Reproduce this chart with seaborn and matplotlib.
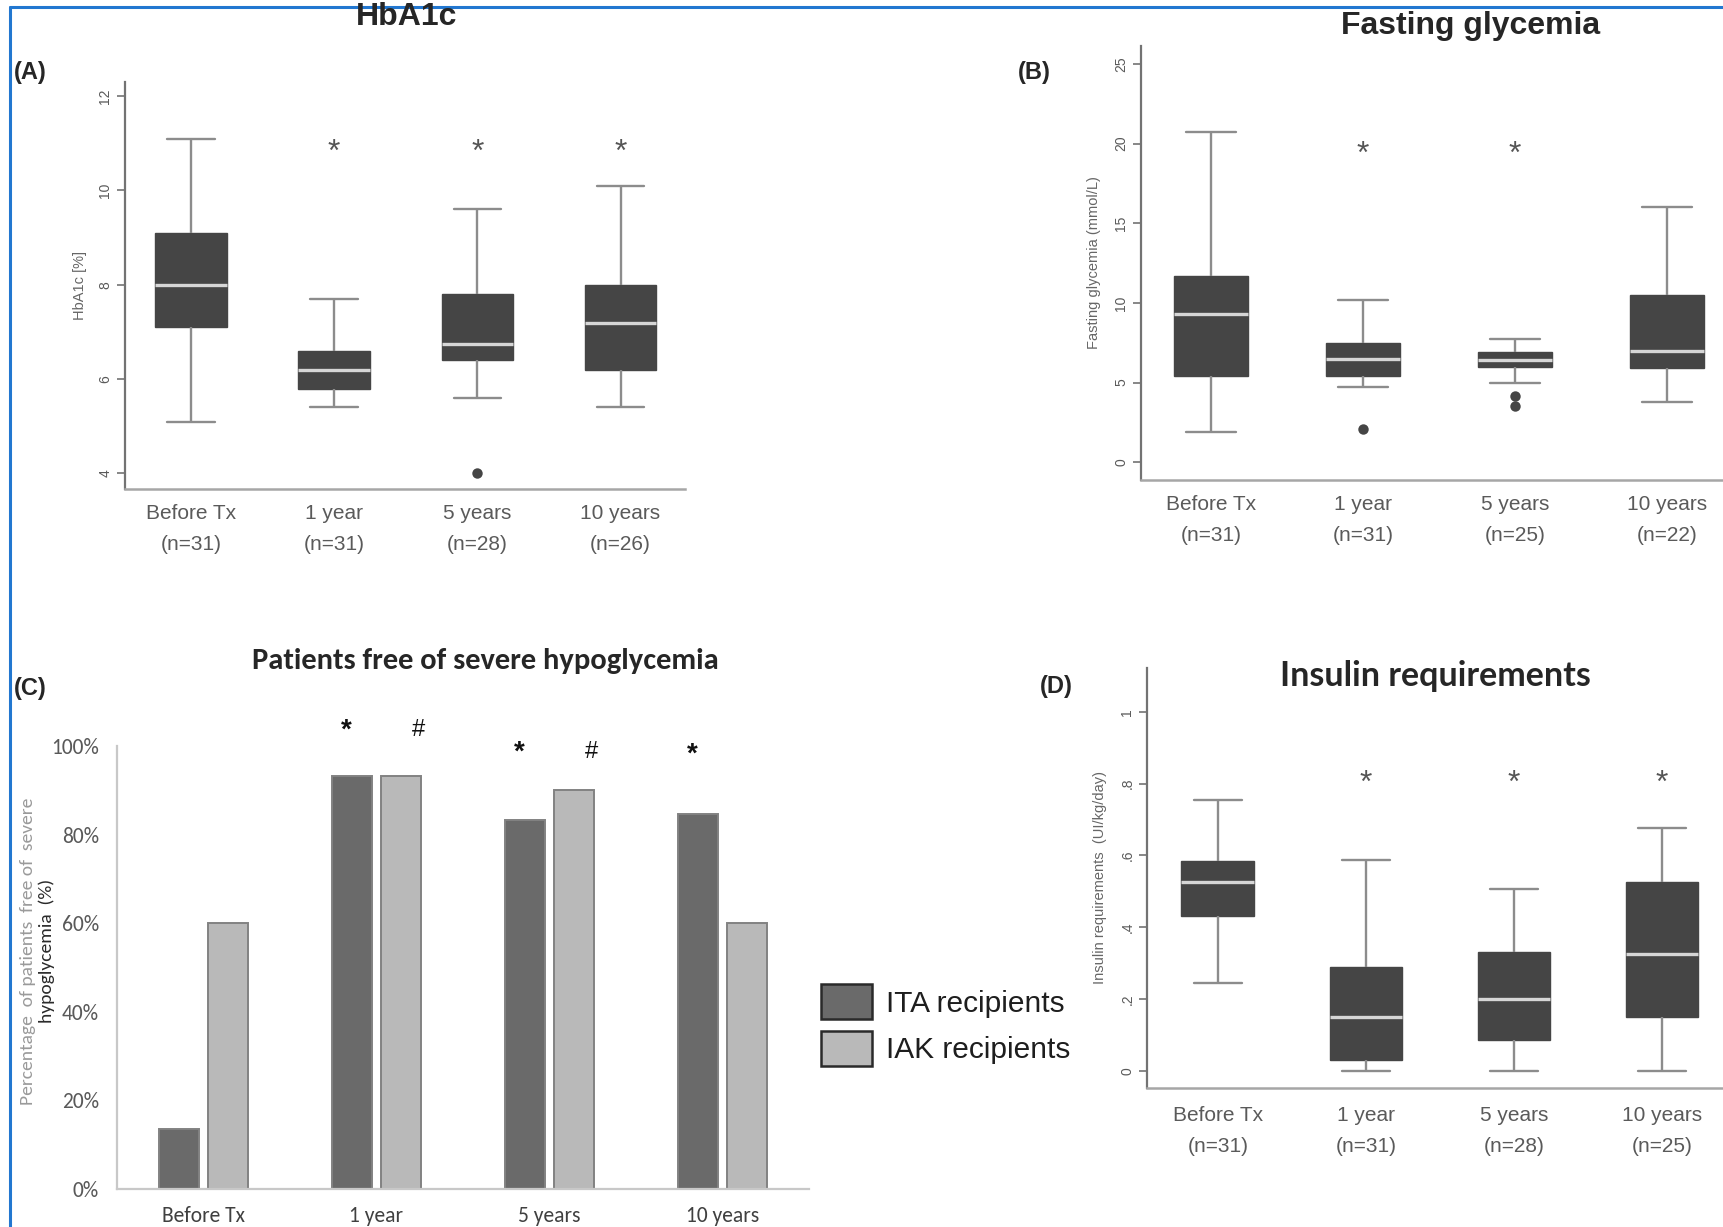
import numpy as np
import pandas as pd
import matplotlib
matplotlib.use("Agg")
import matplotlib.pyplot as plt
from matplotlib import font_manager
from matplotlib.lines import Line2D
import seaborn as sns

# ---------------------------------------------------------------- data
periods = ["Before Tx", "1 year", "5 years", "10 years"]

# (A) HbA1c [%] - five-number summaries per period
hba1c_n = [31, 31, 28, 26]
hba1c_low = [5.1, 5.4, 5.6, 5.4]
hba1c_q1 = [7.1, 5.8, 6.4, 6.2]
hba1c_median = [8.0, 6.2, 6.75, 7.2]
hba1c_q3 = [9.1, 6.6, 7.8, 8.0]
hba1c_high = [11.1, 7.7, 9.6, 10.1]
hba1c_outlier_period = ["5 years"]
hba1c_outlier_value = [4.0]
hba1c_signif = ["", "*", "*", "*"]

# (B) fasting glycemia (mmol/L)
glyc_n = [31, 31, 25, 22]
glyc_low = [1.9, 4.7, 5.0, 3.8]
glyc_q1 = [5.4, 5.4, 6.0, 5.9]
glyc_median = [9.3, 6.5, 6.4, 7.0]
glyc_q3 = [11.7, 7.5, 6.9, 10.5]
glyc_high = [20.7, 10.2, 7.75, 16.0]
glyc_outlier_period = ["1 year", "5 years", "5 years"]
glyc_outlier_value = [2.1, 4.15, 3.5]
glyc_signif = ["", "*", "*", ""]

# (C) patients free of severe hypoglycemia (%)
hypo_groups = ["ITA recipients", "IAK recipients"]
hypo_ita = [13.5, 93.3, 83.4, 84.7]
hypo_iak = [60.0, 93.3, 90.0, 60.0]
hypo_ita_signif = ["", "*", "*", "*"]
hypo_iak_signif = ["", "#", "#", ""]

# (D) insulin requirements (UI/kg/day)
insulin_n = [31, 31, 28, 25]
insulin_low = [0.245, 0.0, 0.0, 0.0]
insulin_q1 = [0.43, 0.03, 0.085, 0.15]
insulin_median = [0.525, 0.15, 0.20, 0.325]
insulin_q3 = [0.585, 0.29, 0.33, 0.525]
insulin_high = [0.755, 0.588, 0.507, 0.677]
insulin_signif = ["", "*", "*", "*"]

# ---------------------------------------------------------------- style
sns.set_style("white")


def pick_font(*names):
    installed = {f.name for f in font_manager.fontManager.ttflist}
    for n in names:
        if n in installed:
            return n
    return "DejaVu Sans"


ARIAL = pick_font("Liberation Sans", "Arimo", "DejaVu Sans")
NARROW = pick_font("Liberation Sans Narrow", "Lato", "Liberation Sans")
CALIBRI = pick_font("Carlito", "Lato", "Liberation Sans")
plt.rcParams["font.family"] = [ARIAL, "DejaVu Sans"]

W, H = 1724, 1227
fig = plt.figure(figsize=(W / 100, H / 100), dpi=100)
fig.patch.set_facecolor("white")


def axes_px(left, top, right, bottom):
    """Create axes from pixel edges measured from the top-left corner."""
    return fig.add_axes([left / W, 1 - bottom / H, (right - left) / W, (bottom - top) / H])


def ftext(x, y, s, **kw):
    return fig.text(x / W, 1 - y / H, s, **kw)


BOX_FILL = "#454545"
WHISKER = "#8c8c8c"
AXIS_GREY = "#737373"
LABEL_GREY = "#5a5a5a"


def five_number_frame(low, q1, med, q3, high):
    rows = []
    for p, vals in zip(periods, zip(low, q1, med, q3, high)):
        for v in vals:
            rows.append({"period": p, "value": v})
    return pd.DataFrame(rows)


def stata_boxplot(ax, frame, out_period, out_value, width):
    sns.boxplot(
        data=frame, x="period", y="value", order=periods, whis=(0, 100),
        width=width, color=BOX_FILL, linecolor=BOX_FILL, ax=ax,
        capwidths=width * 0.66,
        boxprops=dict(facecolor=BOX_FILL, edgecolor=BOX_FILL, linewidth=1),
        medianprops=dict(color="#d6d6d6", linewidth=2.4),
        whiskerprops=dict(color=WHISKER, linewidth=1.7),
        capprops=dict(color=WHISKER, linewidth=1.7),
    )
    if out_value:
        sns.stripplot(x=out_period, y=out_value, order=periods, jitter=False,
                      color=BOX_FILL, size=7.5, linewidth=0, ax=ax)


def stata_axes(ax, xlim, ylim, yticks, yticklabels, ylabel, ns, ylabel_pad):
    ax.set_xlim(*xlim)
    ax.set_ylim(*ylim)
    ax.set_facecolor("white")
    ax.set_yticks(yticks)
    ax.set_yticklabels(yticklabels, rotation=90, va="center", fontsize=10,
                       color=LABEL_GREY)
    ax.set_xticks(range(len(periods)))
    ax.set_xticklabels([f"{p}\n(n={k})" for p, k in zip(periods, ns)],
                       linespacing=1.8, fontsize=15, color=LABEL_GREY)
    ax.tick_params(axis="x", length=0, pad=11)
    ax.tick_params(axis="y", length=6, width=1.2, color=AXIS_GREY, pad=3, left=True)
    for s in ("top", "right"):
        ax.spines[s].set_visible(False)
    ax.spines["left"].set_color(AXIS_GREY)
    ax.spines["left"].set_linewidth(1.6)
    ax.spines["bottom"].set_color("#a6a6a6")
    ax.spines["bottom"].set_linewidth(1.8)
    ax.set_xlabel("")
    ax.set_ylabel(ylabel, fontsize=10.5, color="#666666", labelpad=ylabel_pad)


def stars(ax, marks, y, size=23):
    for i, m in enumerate(marks):
        if m:
            ax.text(i, y, m, ha="center", va="center", fontsize=size,
                    color="#555555", fontfamily=ARIAL)


# ---------------------------------------------------------------- (A) HbA1c
axA = axes_px(125, 82, 685, 489)
stata_boxplot(axA, five_number_frame(hba1c_low, hba1c_q1, hba1c_median, hba1c_q3, hba1c_high),
              hba1c_outlier_period, hba1c_outlier_value, 0.5)
stata_axes(axA, (-0.46, 3.45), (3.67, 12.3), [4, 6, 8, 10, 12],
           ["4", "6", "8", "10", "12"], "HbA1c [%]", hba1c_n, 8)
stars(axA, hba1c_signif, 10.8)
ftext(407, 17, "HbA1c", ha="center", va="center", fontsize=23, fontweight="bold")
ftext(14, 73, "(A)", ha="left", va="center", fontsize=17, fontweight="bold")

# ---------------------------------------------------------------- (B) fasting glycemia
axB = axes_px(1141, 46, 1724, 480)
stata_boxplot(axB, five_number_frame(glyc_low, glyc_q1, glyc_median, glyc_q3, glyc_high),
              glyc_outlier_period, glyc_outlier_value, 0.49)
stata_axes(axB, (-0.46, 3.375), (-1.12, 26.13), [0, 5, 10, 15, 20, 25],
           ["0", "5", "10", "15", "20", "25"], "Fasting glycemia (mmol/L)", glyc_n, 10)
stars(axB, glyc_signif, 19.3)
ftext(1471, 26, "Fasting glycemia", ha="center", va="center", fontsize=23, fontweight="bold")
ftext(1018, 72, "(B)", ha="left", va="center", fontsize=17, fontweight="bold")

# ---------------------------------------------------------------- (C) severe hypoglycemia
axC = axes_px(117, 746, 809, 1189)
hypo = pd.DataFrame({
    "period": periods * 2,
    "group": [hypo_groups[0]] * 4 + [hypo_groups[1]] * 4,
    "pct": hypo_ita + hypo_iak,
})
sns.barplot(data=hypo, x="period", y="pct", hue="group", order=periods,
            hue_order=hypo_groups, palette=["#6a6a6a", "#b9b9b9"], saturation=1,
            width=0.57, gap=0.2, edgecolor="#828282", linewidth=1.4,
            errorbar=None, ax=axC)
axC.set_xlim(-0.5, 3.5)
axC.set_ylim(0, 100)
axC.set_yticks(range(0, 101, 20))
axC.set_yticklabels([f"{v}%" for v in range(0, 101, 20)], fontsize=15.5,
                    color="#595959", fontfamily=CALIBRI)
axC.set_xticks(range(len(periods)))
axC.set_xticklabels(periods, fontsize=15.5, color="#404040", fontfamily=CALIBRI)
axC.tick_params(axis="both", length=0)
axC.tick_params(axis="y", pad=13)
axC.tick_params(axis="x", pad=12)
for s in ("top", "right"):
    axC.spines[s].set_visible(False)
for s in ("left", "bottom"):
    axC.spines[s].set_color("#c8c8c8")
    axC.spines[s].set_linewidth(1.6)
axC.set_xlabel("")
axC.set_ylabel("")

dodge = 0.57 / 4
for i in range(len(periods)):
    if hypo_ita_signif[i]:
        axC.text(i - dodge - 0.03, 103.5 if i == 1 else 98.6 if i == 2 else 98.0,
                 hypo_ita_signif[i], ha="center", va="center", fontsize=20,
                 fontweight="bold", color="#111111")
    if hypo_iak_signif[i]:
        axC.text(i + dodge + 0.1, 103.5 if i == 1 else 98.6,
                 hypo_iak_signif[i], ha="center", va="center", fontsize=17,
                 color="#111111")

legC = axC.get_legend()
handles = legC.legend_handles
labels = [t.get_text() for t in legC.get_texts()]
leg = axC.legend(handles, labels, loc="upper left",
                 bbox_to_anchor=(821 / W, 1 - 984 / H), bbox_transform=fig.transFigure,
                 frameon=False, prop=dict(family=ARIAL, size=21.5),
                 handlelength=1.72, handleheight=1.45, handletextpad=0.45,
                 labelspacing=0.38, borderpad=0, borderaxespad=0)
for p in leg.get_patches():
    p.set_edgecolor("#2a2a2a")
    p.set_linewidth(1.8)
for t in leg.get_texts():
    t.set_color("#1e1e1e")

ftext(485, 661, "Patients free of severe hypoglycemia", ha="center", va="center",
      fontsize=22, fontweight="bold", fontfamily=CALIBRI)
ftext(14, 688, "(C)", ha="left", va="center", fontsize=17, fontweight="bold")
ftext(28, 951, "Percentage  of patients  free of  severe", rotation=90, ha="center",
      va="center", fontsize=14, color="#9a9a9a", fontfamily=CALIBRI)
ftext(47, 951, "hypoglycemia  (%)", rotation=90, ha="center", va="center",
      fontsize=14, color="#2a2a2a", fontfamily=CALIBRI)

# ---------------------------------------------------------------- (D) insulin requirements
axD = axes_px(1147, 668, 1724, 1088)
stata_boxplot(axD, five_number_frame(insulin_low, insulin_q1, insulin_median, insulin_q3, insulin_high),
              [], [], 0.49)
stata_axes(axD, (-0.478, 3.42), (-0.048, 1.122), [0, 0.2, 0.4, 0.6, 0.8, 1.0],
           ["0", ".2", ".4", ".6", ".8", "1"], "Insulin requirements  (UI/kg/day)",
           insulin_n, 10)
axD.tick_params(axis="x", pad=13)
stars(axD, insulin_signif, 0.8)
ftext(1435, 676, "Insulin requirements", ha="center", va="center", fontsize=24.5,
      fontweight="bold", fontfamily=NARROW)
ftext(1040, 686, "(D)", ha="left", va="center", fontsize=17, fontweight="bold")

# ---------------------------------------------------------------- frame
fig.add_artist(Line2D([10 / W, 1], [1 - 7 / H, 1 - 7 / H], color="#2277d0",
                      linewidth=2.2, transform=fig.transFigure))
fig.add_artist(Line2D([10 / W, 10 / W], [0, 1 - 7 / H], color="#2277d0",
                      linewidth=2.2, transform=fig.transFigure))

fig.savefig("out.png", dpi=100, facecolor="white")
